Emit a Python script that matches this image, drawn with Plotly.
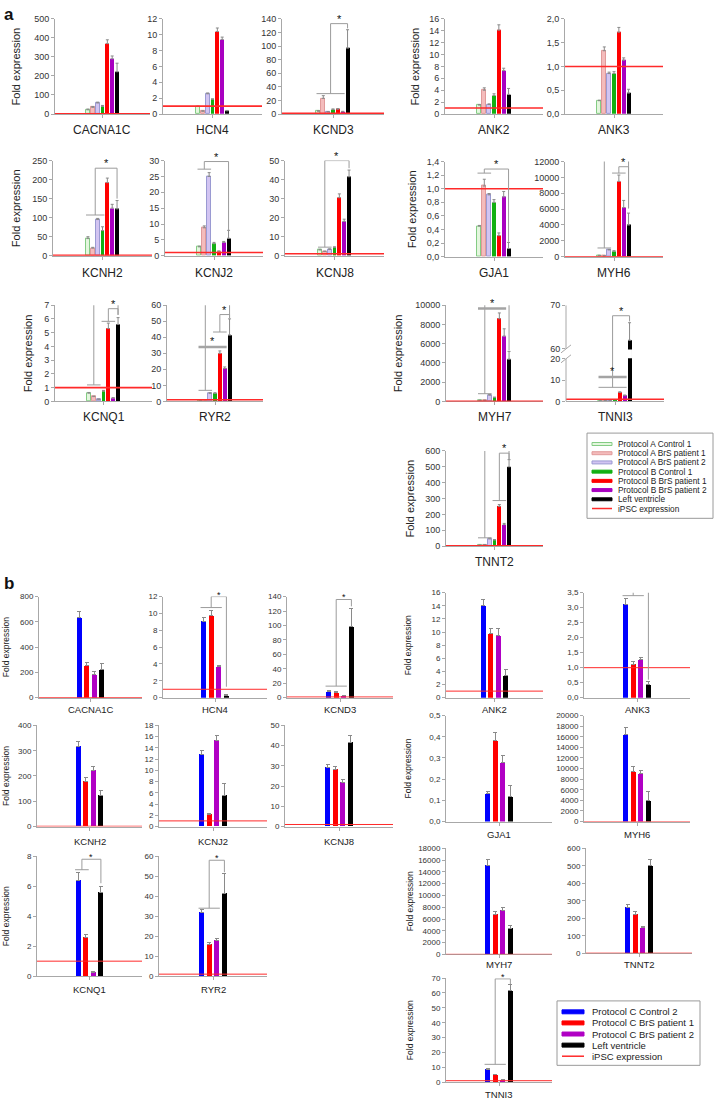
import plotly.graph_objects as go

W, H = 714, 1107
FONT = 'Liberation Sans, Arial, sans-serif'

series_a = ['Protocol A Control 1', 'Protocol A BrS patient 1', 'Protocol A BrS patient 2',
            'Protocol B Control 1', 'Protocol B BrS patient 1', 'Protocol B BrS patient 2',
            'Left ventricle']
series_b = ['Protocol C Control 2', 'Protocol C BrS patient 1', 'Protocol C BrS patient 2',
            'Left ventricle']
ipsc_label = 'iPSC expression'
ipsc_level = 1

# ---- panel a: fold expression (7 bars per gene) ----
a_CACNA1C = [22, 35, 58, 40, 370, 290, 222]
a_CACNA1C_err = [4, 4, 4, 5, 20, 15, 45]
a_HCN4 = [0.95, 0.35, 2.55, 1.85, 10.4, 9.4, 0.4]
a_HCN4_err = [0.05, 0.05, 0.1, 0.05, 0.45, 0.3, 0.05]
a_KCND3 = [4, 23, 3, 6.5, 7, 3.5, 97]
a_KCND3_err = [1, 4, 0.5, 1, 1, 0.5, 27]
a_ANK2 = [1.5, 4.0, 1.6, 3.1, 14.1, 7.3, 3.3]
a_ANK2_err = [0.1, 0.4, 0.1, 0.3, 0.9, 0.4, 1.0]
a_ANK3 = [0.28, 1.33, 0.85, 0.85, 1.72, 1.13, 0.44]
a_ANK3_err = [0.01, 0.08, 0.03, 0.04, 0.1, 0.05, 0.08]
a_KCNH2 = [45, 20, 95, 66, 192, 125, 123]
a_KCNH2_err = [5, 2, 3, 10, 12, 10, 22]
a_KCNJ2 = [2.8, 8.8, 25, 3.8, 1.4, 4.2, 5.5]
a_KCNJ2_err = [0.2, 0.6, 1.2, 0.4, 0.1, 0.3, 2.5]
a_KCNJ8 = [3.0, 2.2, 3.3, 4.3, 30.5, 18.0, 41.5]
a_KCNJ8_err = [0.3, 0.2, 0.3, 0.4, 2, 1.2, 3.5]
a_GJA1 = [0.45, 1.04, 0.91, 0.80, 0.31, 0.88, 0.12]
a_GJA1_err = [0.01, 0.1, 0.02, 0.04, 0.04, 0.08, 0.09]
a_MYH6 = [150, 100, 850, 700, 9500, 6200, 4000]
a_MYH6_err = [30, 30, 60, 50, 800, 900, 1500]
a_KCNQ1 = [0.6, 0.35, 0.15, 0.75, 5.3, 0.25, 5.6]
a_KCNQ1_err = [0.05, 0.03, 0.02, 0.05, 0.4, 0.02, 0.5]
a_RYR2 = [0.8, 1, 5, 5, 30, 20.5, 41.5]
a_RYR2_err = [0.1, 0.1, 0.4, 0.4, 1.5, 1, 10]
a_MYH7 = [100, 100, 650, 400, 8600, 6800, 4400]
a_MYH7_err = [30, 30, 80, 50, 600, 750, 800]
a_TNNI3 = [0.2, 0.3, 0.5, 0.8, 4.2, 2.7, 62]
a_TNNI3_err = [0.05, 0.05, 0.1, 0.1, 0.3, 0.3, 4]
a_TNNT2 = [5, 8, 45, 38, 250, 135, 500]
a_TNNT2_err = [2, 2, 5, 3, 12, 8, 45]

# significance brackets: (group from, group to, group level, top level, target bar, target level)
sig_a_KCND3 = [(0, 5, 30, 133, 6, 126)]
sig_a_KCNH2 = [(0, 3, 107, 230, 6, 150)]
sig_a_KCNJ2 = [(0, 2, 27.3, 29.7, 6, 8)]
sig_a_KCNJ8 = [(0, 2, 4.5, 50, 6, 46)]
sig_a_GJA1 = [(0, 2, 1.23, 1.29, 6, 0.22)]
sig_a_MYH6 = [(0, 2, 1100, 12800, 6, 6100), (3, 5, 10550, 11350, 6, 6100)]
sig_a_KCNQ1 = [(0, 2, 1.2, 7.8, 6, 6.3), (3, 5, 5.83, 6.75, 6, 6.3)]
sig_a_RYR2 = [(0, 2, 6.9, 62.5, 6, 52), (3, 5, 43.3, 54.2, 6, 52)]
sig_a_MYH7 = [(0, 2, 800, 11150, 6, 5300)]
sig_a_TNNI3 = [(0, 5, 6.6, 67.6, 6, 66.3)]
sig_a_TNNT2 = [(0, 2, 52, 638, 6, 548), (3, 5, 287, 586, 6, 548)]
# group comparison lines: (from bar, to bar, level)
grp_a_KCNJ2 = [(0, 5, 33.6)]
grp_a_GJA1 = [(0, 5, 1.46)]
grp_a_RYR2 = [(0, 5, 34)]
grp_a_MYH7 = [(0, 5, 9650)]
grp_a_TNNI3 = [(0, 5, 11.5)]

# ---- panel b: fold expression (4 bars per gene) ----
b_CACNA1C = [632, 255, 180, 222]
b_CACNA1C_err = [52, 22, 24, 47]
b_HCN4 = [9.1, 9.8, 3.7, 0.3]
b_HCN4_err = [0.45, 0.5, 0.1, 0.05]
b_KCND3 = [8.5, 7, 2.5, 98]
b_KCND3_err = [2, 1, 0.5, 25]
b_ANK2 = [14.0, 9.8, 9.5, 3.4]
b_ANK2_err = [0.9, 0.7, 1.0, 0.9]
b_ANK3 = [3.12, 1.12, 1.27, 0.45]
b_ANK3_err = [0.18, 0.07, 0.06, 0.08]
b_KCNH2 = [318, 180, 223, 122]
b_KCNH2_err = [18, 12, 15, 22]
b_KCNJ2 = [12.8, 2.2, 15.3, 5.5]
b_KCNJ2_err = [0.8, 0.1, 0.9, 2.1]
b_KCNJ8 = [29, 28, 22, 41.5]
b_KCNJ8_err = [1.8, 1.5, 1.5, 3.5]
b_GJA1 = [0.13, 0.38, 0.28, 0.12]
b_GJA1_err = [0.01, 0.04, 0.03, 0.05]
b_MYH6 = [16500, 9500, 9000, 4000]
b_MYH6_err = [1200, 900, 700, 1600]
b_KCNQ1 = [6.4, 2.6, 0.25, 5.6]
b_KCNQ1_err = [0.5, 0.15, 0.05, 0.4]
b_RYR2 = [32, 16, 18, 41.5]
b_RYR2_err = [1.5, 0.8, 1, 10]
b_MYH7 = [15150, 6780, 7500, 4430]
b_MYH7_err = [900, 500, 400, 400]
b_TNNT2 = [264, 222, 145, 500]
b_TNNT2_err = [15, 15, 10, 35]
b_TNNI3 = [8.5, 5, 1.5, 61.5]
b_TNNI3_err = [0.5, 0.4, 0.2, 4]

sig_b_HCN4 = [(0, 2, 10.7, 12, 3, 1.3)]
sig_b_KCND3 = [(0, 2, 16, 136, 3, 126.5)]
sig_b_ANK3 = [(0, 2, 3.4, 3.61, 3, 0.6)]
sig_b_KCNQ1 = [(0, 1, 7.1, 7.8, 3, 6.2)]
sig_b_RYR2 = [(0, 2, 34, 58, 3, 52)]
sig_b_TNNI3 = [(0, 2, 12, 69.5, 3, 66)]

# ---- styles ----
fill_a = ['#e4f6de', '#f4bcbc', '#d2c4f2', '#12b012', '#ff0000', '#a800c0', '#000000']
edge_a = ['#84cc84', '#e09a9a', '#9a9ad2', '#12b012', '#ff0000', '#a800c0', '#000000']
fill_b = ['#0000ff', '#ff0000', '#b000c4', '#000000']
RED = '#ff2a2a'
GREY = '#a8a8a8'
SIGC = '#9c9c9c'

# broken axis of TNNI3 (panel a): 0-20 then 60-70
BRK_LO, BRK_HI, BRK_GAP, BRK_K = 20, 60, 4.65, 2.05


def brk(v):
    if v <= BRK_LO:
        return v
    return BRK_LO + BRK_GAP + (v - BRK_HI) * BRK_K


fig = go.Figure()
shapes = []
annots = []
count = [0]


def pxx(p):
    return p / W


def pxy(p):
    return 1 - p / H


def add_panel(gene, vals, errs, box, ymax, ystep, small, sig=(), grp=(), ylab=None,
              lab_off=16, tf=None, tick_list=None):
    count[0] += 1
    n = count[0]
    xa = 'x' if n == 1 else f'x{n}'
    ya = 'y' if n == 1 else f'y{n}'
    tf = tf or (lambda v: v)
    x0, x1, yt, yb = box
    nb = len(vals)
    spacing = 7.6 if small else 4.85
    bw = 0.66 if small else 0.82
    c = (nb - 1) / 2
    half = (x1 - x0) / spacing / 2
    xs = list(range(nb))
    ys = [tf(v) for v in vals]
    es = [tf(v + e) - tf(v) for v, e in zip(vals, errs)]
    if small:
        mcol, lcol, lw = fill_b, fill_b, 0
    else:
        mcol, lcol, lw = fill_a, edge_a, [1, 1, 1, 0, 0, 0, 0]
    fig.add_trace(go.Bar(
        x=xs, y=ys, width=bw, xaxis=xa, yaxis=ya, showlegend=False,
        marker=dict(color=mcol, line=dict(color=lcol, width=lw)),
        error_y=dict(type='data', symmetric=False, array=es, arrayminus=[0] * nb,
                     color='#8a8a8a', thickness=1, width=1.5 if not small else 2),
    ))
    tfs = 8 if small else 9
    if tick_list is None:
        tick_list = [round(i * ystep, 6) for i in range(int(round(ymax / ystep)) + 1)]
    ttext = [(f'{t:.1f}'.replace('.', ',') if ystep < 1 else f'{int(round(t))}') for t in tick_list]
    key = '' if n == 1 else str(n)
    fig.layout['xaxis' + key] = dict(
        domain=[pxx(x0), pxx(x1)], anchor=ya, range=[c - half, c + half],
        showline=True, linecolor=GREY, linewidth=1, showgrid=False, zeroline=False,
        tickvals=[c], ticks='outside', ticklen=3, tickcolor=GREY, showticklabels=False,
        fixedrange=True)
    fig.layout['yaxis' + key] = dict(
        domain=[pxy(yb), pxy(yt)], anchor=xa, range=[0, tf(ymax)],
        showline=True, linecolor=GREY, linewidth=1, showgrid=False,
        zeroline=False, tickvals=[tf(t) for t in tick_list], ticktext=ttext,
        ticks='outside', ticklen=3, tickcolor=GREY,
        tickfont=dict(size=tfs, color='#333', family=FONT), fixedrange=True)
    # iPSC reference line
    if ipsc_level <= ymax:
        shapes.append(dict(type='line', xref=f'{xa} domain', yref=ya, x0=0, x1=1,
                           y0=tf(ipsc_level), y1=tf(ipsc_level),
                           line=dict(color=RED, width=1 if small else 1.6)))
    # significance brackets
    sfs = 9 if small else 11
    sshift = -5 if small else -3
    for g0, g1, yg, ytop, tgt, ytg in sig:
        mid = (g0 + g1) / 2
        segs = [(g0 - 0.4, yg, g1 + 0.4, yg), (mid, yg, mid, ytop),
                (mid, ytop, tgt, ytop), (tgt, ytop, tgt, ytg)]
        for a0, b0, a1, b1 in segs:
            shapes.append(dict(type='line', xref=xa, yref=ya, x0=a0, x1=a1,
                               y0=tf(b0), y1=tf(b1), line=dict(color=SIGC, width=1)))
        annots.append(dict(x=(mid + tgt) / 2, y=tf(ytop), xref=xa, yref=ya, text='*',
                           showarrow=False, xanchor='center', yanchor='bottom', yshift=sshift,
                           font=dict(size=sfs, color='#111', family=FONT)))
    for g0, g1, yl in grp:
        shapes.append(dict(type='line', xref=xa, yref=ya, x0=g0 - 0.4, x1=g1 + 0.4,
                           y0=tf(yl), y1=tf(yl), line=dict(color='#a4a4a4', width=2.5)))
        annots.append(dict(x=(g0 + g1) / 2, y=tf(yl), xref=xa, yref=ya, text='*',
                           showarrow=False, xanchor='center', yanchor='bottom', yshift=-2,
                           font=dict(size=sfs, color='#111', family=FONT)))
    # gene name
    annots.append(dict(x=pxx((x0 + x1) / 2), y=pxy(yb + lab_off), xref='paper', yref='paper',
                       text=gene, showarrow=False, xanchor='center', yanchor='middle',
                       font=dict(size=9.5 if small else 12, color='#222', family=FONT)))
    if ylab is not None:
        annots.append(dict(x=pxx(ylab), y=pxy((yt + yb) / 2), xref='paper', yref='paper',
                           text='Fold expression', textangle=-90, showarrow=False,
                           xanchor='center', yanchor='middle',
                           font=dict(size=8.5 if small else 11, color='#222', family=FONT)))
    return n, xa, ya


# ---- panel a ----
add_panel('CACNA1C', a_CACNA1C, a_CACNA1C_err, (55, 150, 14, 110), 500, 100, False, ylab=16)
add_panel('HCN4', a_HCN4, a_HCN4_err, (163, 262, 14, 110), 12, 2, False)
add_panel('KCND3', a_KCND3, a_KCND3_err, (282, 384, 14, 110), 140, 20, False, sig=sig_a_KCND3)
add_panel('ANK2', a_ANK2, a_ANK2_err, (445, 543, 14, 110), 16, 2, False, ylab=415)
add_panel('ANK3', a_ANK3, a_ANK3_err, (565, 663, 14, 110), 2, 0.5, False)

add_panel('KCNH2', a_KCNH2, a_KCNH2_err, (53, 152, 157, 253), 250, 50, False, sig=sig_a_KCNH2,
          ylab=16, lab_off=17)
add_panel('KCNJ2', a_KCNJ2, a_KCNJ2_err, (165, 263, 157, 253), 30, 5, False, sig=sig_a_KCNJ2,
          grp=grp_a_KCNJ2, lab_off=17)
add_panel('KCNJ8', a_KCNJ8, a_KCNJ8_err, (285, 384, 157, 253), 50, 10, False, sig=sig_a_KCNJ8,
          lab_off=17)
add_panel('GJA1', a_GJA1, a_GJA1_err, (445, 543, 158, 254), 1.4, 0.2, False, sig=sig_a_GJA1,
          grp=grp_a_GJA1, ylab=412, lab_off=16)
add_panel('MYH6', a_MYH6, a_MYH6_err, (565, 663, 158, 254), 12000, 2000, False, sig=sig_a_MYH6,
          lab_off=16)

add_panel('KCNQ1', a_KCNQ1, a_KCNQ1_err, (55, 152, 303, 400), 7, 1, False, sig=sig_a_KCNQ1,
          ylab=28)
add_panel('RYR2', a_RYR2, a_RYR2_err, (167, 263, 303, 400), 60, 10, False, sig=sig_a_RYR2,
          grp=grp_a_RYR2)
add_panel('MYH7', a_MYH7, a_MYH7_err, (446, 543, 303, 400), 10000, 2000, False, sig=sig_a_MYH7,
          grp=grp_a_MYH7, ylab=398)
n_t, xa_t, ya_t = add_panel('TNNI3', a_TNNI3, a_TNNI3_err, (566, 664, 303, 400), 70, 10, False,
                            sig=sig_a_TNNI3, grp=grp_a_TNNI3, tf=brk,
                            tick_list=[0, 10, 20, 60, 70])
add_panel('TNNT2', a_TNNT2, a_TNNT2_err, (446, 543, 450, 546), 600, 100, False,
          sig=sig_a_TNNT2, ylab=410)

# broken axis decoration for TNNI3
fig.layout['yaxis' + str(n_t)].showline = False
for y0, y1 in [(0, brk(BRK_LO)), (brk(BRK_HI), brk(70))]:
    shapes.append(dict(type='line', xref=f'{xa_t} domain', yref=ya_t, x0=0, x1=0, y0=y0, y1=y1,
                       line=dict(color=GREY, width=1)))
shapes.append(dict(type='rect', xref=xa_t, yref=ya_t, x0=5.5, x1=6.5, y0=brk(BRK_LO) + 0.3,
                   y1=brk(BRK_HI) - 0.3, fillcolor='white', line=dict(width=0)))
for yv in (brk(BRK_LO), brk(BRK_HI)):
    shapes.append(dict(type='line', xref=f'{xa_t} domain', yref=ya_t, xsizemode='pixel',
                       ysizemode='pixel', xanchor=0, yanchor=yv, x0=-5, x1=5, y0=-4, y1=4,
                       line=dict(color=GREY, width=1)))

# ---- panel b ----
add_panel('CACNA1C', b_CACNA1C, b_CACNA1C_err, (39, 142, 597, 699), 800, 200, True, ylab=6,
          lab_off=12)
add_panel('HCN4', b_HCN4, b_HCN4_err, (163, 267, 597, 699), 12, 2, True, sig=sig_b_HCN4,
          lab_off=12)
add_panel('KCND3', b_KCND3, b_KCND3_err, (287, 393, 597, 699), 140, 20, True, sig=sig_b_KCND3,
          lab_off=12)
add_panel('ANK2', b_ANK2, b_ANK2_err, (446, 543, 593, 699), 16, 2, True, ylab=408, lab_off=12)
add_panel('ANK3', b_ANK3, b_ANK3_err, (584, 690, 593, 699), 3.5, 0.5, True, sig=sig_b_ANK3,
          lab_off=12)

add_panel('KCNH2', b_KCNH2, b_KCNH2_err, (37, 142, 727, 829), 400, 100, True, ylab=6, lab_off=15)
add_panel('KCNJ2', b_KCNJ2, b_KCNJ2_err, (159, 267, 727, 829), 18, 2, True, lab_off=15)
add_panel('KCNJ8', b_KCNJ8, b_KCNJ8_err, (285, 393, 727, 829), 50, 10, True, lab_off=15)
add_panel('GJA1', b_GJA1, b_GJA1_err, (446, 552, 717, 824), 0.5, 0.1, True, ylab=408, lab_off=13)
add_panel('MYH6', b_MYH6, b_MYH6_err, (584, 690, 717, 824), 20000, 2000, True, lab_off=13)

add_panel('KCNQ1', b_KCNQ1, b_KCNQ1_err, (37, 142, 859, 980), 8, 2, True, sig=sig_b_KCNQ1,
          ylab=6, lab_off=13)
add_panel('RYR2', b_RYR2, b_RYR2_err, (159, 267, 859, 980), 60, 10, True, sig=sig_b_RYR2,
          lab_off=13)
add_panel('MYH7', b_MYH7, b_MYH7_err, (446, 552, 851, 958), 18000, 2000, True, ylab=410,
          lab_off=10)
add_panel('TNNT2', b_TNNT2, b_TNNT2_err, (586, 692, 851, 957), 600, 100, True, lab_off=11)
add_panel('TNNI3', b_TNNI3, b_TNNI3_err, (446, 552, 982, 1087), 70, 10, True, sig=sig_b_TNNI3,
          ylab=410, lab_off=12)


# ---- legends ----
def legend(names, fills, edges, box, sw, tx, ty0, dy, fs, sh):
    bx0, bx1, by0, by1 = box
    shapes.append(dict(type='rect', xref='paper', yref='paper', x0=pxx(bx0), x1=pxx(bx1),
                       y0=pxy(by1), y1=pxy(by0), line=dict(color='#9a9a9a', width=1),
                       fillcolor='white', layer='below'))
    for i, name in enumerate(names + [ipsc_label]):
        yy = ty0 + i * dy
        if i < len(names):
            shapes.append(dict(type='rect', xref='paper', yref='paper', x0=pxx(sw[0]),
                               x1=pxx(sw[1]), y0=pxy(yy + sh / 2), y1=pxy(yy - sh / 2),
                               fillcolor=fills[i], line=dict(color=edges[i], width=1)))
        else:
            shapes.append(dict(type='line', xref='paper', yref='paper', x0=pxx(sw[0]),
                               x1=pxx(sw[1]), y0=pxy(yy), y1=pxy(yy),
                               line=dict(color=RED, width=1.5)))
        annots.append(dict(x=pxx(tx), y=pxy(yy), xref='paper', yref='paper', text=name,
                           showarrow=False, xanchor='left', yanchor='middle',
                           font=dict(size=fs, color='#222', family=FONT)))


legend(series_a, fill_a, edge_a, (587, 713, 432, 518), (592, 612), 616, 443, 9.3, 8.3, 3)
legend(series_b, fill_b, fill_b, (557, 700, 1005, 1070), (562, 584), 590, 1016, 11.2, 9.5, 4)

# panel letters
for letter, (lx, ly) in zip(['a', 'b'], [(9, 10), (9, 584)]):
    annots.append(dict(x=pxx(lx), y=pxy(ly), xref='paper', yref='paper', text=f'<b>{letter}</b>',
                       showarrow=False, xanchor='center', yanchor='middle',
                       font=dict(size=17, color='#111', family=FONT)))

fig.update_layout(
    width=W, height=H, margin=dict(l=0, r=0, t=0, b=0),
    paper_bgcolor='white', plot_bgcolor='white', showlegend=False,
    bargap=0, shapes=shapes, annotations=annots,
    font=dict(family=FONT, color='#222'),
)

fig.write_html('out.html', config={'displayModeBar': False},
               post_script="document.body.style.margin='0px';")
